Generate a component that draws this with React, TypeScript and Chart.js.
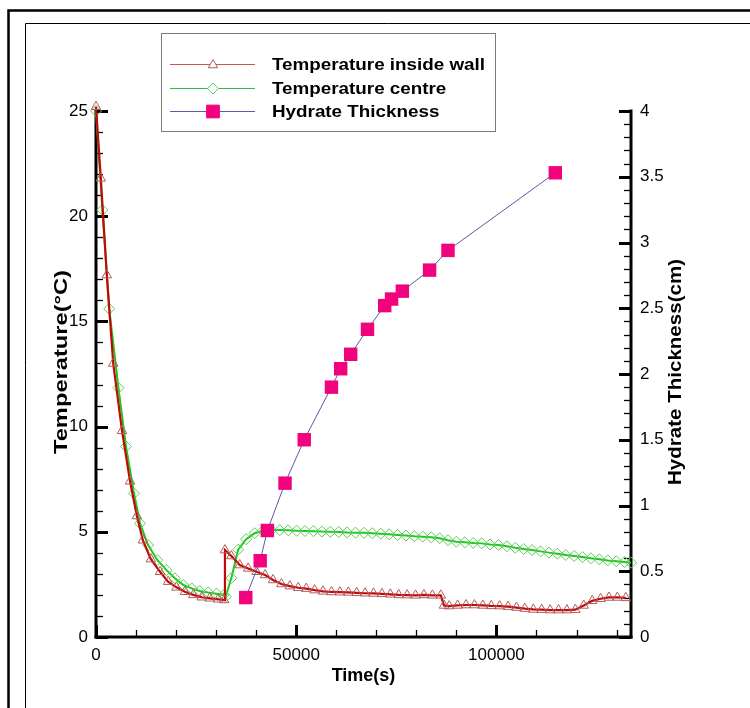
import React, { useEffect, useRef } from 'react';
import { Chart, registerables } from 'chart.js';

Chart.register(...registerables);

const FONT = '"Liberation Sans", Arial, Helvetica, sans-serif';

// ---------- data ----------
const wallTime = [0, 1200, 2700, 4300, 6500, 8500, 10200, 11700, 13700, 16000, 18000, 20100, 22200, 24300, 26400, 28400, 30500, 32000, 32200, 33800, 35900, 38000, 40100, 42200, 44200, 46300, 48400, 50500, 52500, 54600, 56700, 58800, 60900, 63000, 65100, 67200, 69300, 71400, 73500, 75600, 77700, 79800, 81900, 84000, 86100, 86900, 88200, 90300, 92400, 94500, 96600, 98700, 100800, 102900, 105000, 107100, 109200, 111300, 113400, 115500, 117600, 119700, 121800, 123900, 126000, 128100, 130200, 132300];
const wallTemp = [25.2, 21.8, 17.2, 13.0, 9.8, 7.4, 5.75, 4.6, 3.7, 3.1, 2.63, 2.36, 2.15, 2.0, 1.89, 1.84, 1.79, 1.76, 4.13, 3.85, 3.42, 3.26, 3.1, 2.95, 2.71, 2.52, 2.42, 2.34, 2.3, 2.23, 2.17, 2.14, 2.13, 2.12, 2.1, 2.08, 2.07, 2.05, 2.03, 2.0, 1.99, 1.98, 2.0, 1.98, 1.98, 1.5, 1.47, 1.5, 1.52, 1.52, 1.5, 1.48, 1.47, 1.44, 1.4, 1.35, 1.31, 1.3, 1.28, 1.28, 1.28, 1.3, 1.5, 1.72, 1.82, 1.88, 1.88, 1.86];

const centreTime = [0, 1600, 3300, 5600, 7500, 9500, 11000, 13000, 15300, 17600, 19700, 21800, 23900, 25900, 28000, 30100, 31900, 32400, 33800, 35500, 37500, 39600, 41700, 43800, 45900, 48000, 50100, 52200, 54300, 56400, 58500, 60600, 62700, 64800, 66900, 69000, 71100, 73200, 75300, 77400, 79500, 81600, 83700, 85800, 87900, 90000, 92100, 94200, 96300, 98400, 100500, 102600, 104700, 106800, 108900, 111000, 113100, 115200, 117300, 119400, 121500, 123600, 125700, 127800, 129900, 132000, 133600];
const centreTemp = [25.0, 20.3, 15.6, 11.85, 9.05, 6.83, 5.4, 4.37, 3.66, 3.18, 2.79, 2.47, 2.31, 2.19, 2.12, 2.06, 2.0, 1.92, 2.8, 4.15, 4.65, 4.93, 5.05, 5.08, 5.08, 5.07, 5.05, 5.04, 5.03, 5.01, 5.0, 4.99, 4.97, 4.96, 4.95, 4.93, 4.91, 4.88, 4.85, 4.82, 4.79, 4.77, 4.74, 4.69, 4.6, 4.53, 4.5, 4.47, 4.45, 4.4, 4.37, 4.31, 4.24, 4.18, 4.13, 4.07, 4.01, 3.96, 3.9, 3.85, 3.8, 3.74, 3.69, 3.64, 3.6, 3.56, 3.53];

const hydrateTime = [37400, 41000, 42800, 47200, 52000, 58800, 61100, 63600, 67800, 72100, 73800, 76500, 83300, 87900, 114700];
const hydrateThickness = [0.30, 0.58, 0.81, 1.17, 1.50, 1.90, 2.04, 2.15, 2.34, 2.52, 2.57, 2.63, 2.79, 2.94, 3.53];

const xTickValues = [0, 50000, 100000];
const tempTickValues = [0, 5, 10, 15, 20, 25];
const hydTickValues = [0, 0.5, 1, 1.5, 2, 2.5, 3, 3.5, 4];

const seriesNames = ['Temperature inside wall', 'Temperature centre', 'Hydrate Thickness'];
const axisTitles = { x: 'Time(s)', y: 'Temperature(°C)', y2: 'Hydrate Thickness(cm)' };

const X_MAX = 133600;
const T_MAX = 25;
const H_MAX = 4;

// ---------- styles ----------
const WALL_LINE = '#c40808';
const WALL_MARK = '#b35c5c';
const CENTRE_LINE = '#1ec81e';
const CENTRE_MARK = '#5fcc5f';
const HYD_LINE = '#5b5ba5';
const HYD_MARK = '#f2037e';

function pts(xs: number[], ys: number[]) {
  return xs.map((x, i) => ({ x, y: ys[i] }));
}

function drawText(ctx: CanvasRenderingContext2D, text: string, x: number, y: number, angle: number, font: string, align: CanvasTextAlign, width?: number) {
  ctx.save();
  ctx.translate(x, y);
  ctx.rotate(angle);
  ctx.font = font;
  ctx.textAlign = align;
  ctx.textBaseline = 'middle';
  ctx.fillStyle = '#000';
  if (width) {
    const w = ctx.measureText(text).width;
    ctx.scale(width / w, 1);
  }
  ctx.fillText(text, 0, 0);
  ctx.restore();
}

function marker(ctx: CanvasRenderingContext2D, style: string, x: number, y: number, r: number, stroke: string, fill?: string) {
  ctx.save();
  ctx.beginPath();
  if (style === 'triangle') {
    for (let k = 0; k < 3; k++) {
      const a = (k * 2 * Math.PI) / 3;
      const px = x + Math.sin(a) * r;
      const py = y - Math.cos(a) * r;
      if (k === 0) ctx.moveTo(px, py); else ctx.lineTo(px, py);
    }
    ctx.closePath();
  } else if (style === 'diamond') {
    ctx.moveTo(x, y - r); ctx.lineTo(x + r, y); ctx.lineTo(x, y + r); ctx.lineTo(x - r, y); ctx.closePath();
  } else {
    const s = r * Math.SQRT1_2;
    ctx.rect(x - s, y - s, 2 * s, 2 * s);
  }
  if (fill) { ctx.fillStyle = fill; ctx.fill(); }
  ctx.strokeStyle = stroke; ctx.lineWidth = 1; ctx.stroke();
  ctx.restore();
}

const decorPlugin = {
  id: 'decor',
  beforeDraw(chart: any) {
    const ctx: CanvasRenderingContext2D = chart.ctx;
    ctx.save();
    ctx.fillStyle = '#fff';
    ctx.fillRect(0, 0, chart.width, chart.height);
    ctx.strokeStyle = '#000';
    ctx.lineWidth = 2.5;
    ctx.beginPath(); ctx.moveTo(8.5, chart.height); ctx.lineTo(8.5, 10.5); ctx.lineTo(chart.width, 10.5); ctx.stroke();
    ctx.lineWidth = 1;
    ctx.beginPath(); ctx.moveTo(25.5, chart.height); ctx.lineTo(25.5, 23.5); ctx.lineTo(chart.width, 23.5); ctx.stroke();
    ctx.restore();
  },
  beforeDatasetsDraw(chart: any) {
    const ctx: CanvasRenderingContext2D = chart.ctx;
    const a = chart.chartArea;
    const { x, y, y2 } = chart.scales;
    ctx.save();
    ctx.strokeStyle = '#000';
    const seg = (x1: number, y1: number, x2: number, yy2: number, w: number) => {
      ctx.lineWidth = w; ctx.beginPath(); ctx.moveTo(x1, y1); ctx.lineTo(x2, yy2); ctx.stroke();
    };
    // left axis ticks (minor every 1, major every 5)
    for (let v = 0; v <= T_MAX; v++) {
      const p = Math.round(y.getPixelForValue(v)) + 0.5;
      const major = v % 5 === 0;
      seg(a.left, p, a.left + (major ? 12 : 7), p, major ? 3 : 1.3);
    }
    // right axis ticks (minor every 0.1, major every 0.5)
    for (let k = 0; k <= H_MAX * 10; k++) {
      const p = Math.round(y2.getPixelForValue(k / 10)) + 0.5;
      const major = k % 5 === 0;
      seg(a.right, p, a.right - (major ? 12 : 7), p, major ? 3 : 1.3);
    }
    // bottom axis ticks (minor every 10000, major every 50000)
    for (let v = 0; v <= X_MAX; v += 10000) {
      const p = Math.round(x.getPixelForValue(v)) + 0.5;
      const major = v % 50000 === 0;
      seg(p, a.bottom, p, a.bottom - (major ? 12 : 7), major ? 3 : 1.3);
    }
    // axis lines
    seg(a.left, a.top - 1.5, a.left, a.bottom + 1.5, 3);
    seg(a.right, a.top - 1.5, a.right, a.bottom + 1.5, 3);
    seg(a.left - 1.5, a.bottom, a.right + 1.5, a.bottom, 3);
    ctx.restore();
  },
  afterDraw(chart: any) {
    const ctx: CanvasRenderingContext2D = chart.ctx;
    const a = chart.chartArea;
    // axis titles
    drawText(ctx, axisTitles.x, (a.left + a.right) / 2, 676, 0, `bold 18px ${FONT}`, 'center');
    drawText(ctx, axisTitles.y, 62, 362, -Math.PI / 2, `bold 18px ${FONT}`, 'center', 184);
    drawText(ctx, axisTitles.y2, 676, 372, -Math.PI / 2, `bold 18px ${FONT}`, 'center', 226);
    // legend box
    ctx.save();
    ctx.fillStyle = '#fff';
    ctx.fillRect(161, 33, 334, 98);
    ctx.strokeStyle = '#7a7a7a';
    ctx.lineWidth = 1;
    ctx.strokeRect(161.5, 33.5, 334, 98);
    const rows = [64, 88, 111];
    const lineCols = ['#c05a5a', '#3cb83c', HYD_LINE];
    for (let i = 0; i < 3; i++) {
      const ry = rows[i] + 0.5;
      ctx.strokeStyle = lineCols[i];
      ctx.lineWidth = 1;
      ctx.beginPath(); ctx.moveTo(170, ry); ctx.lineTo(255, ry); ctx.stroke();
    }
    marker(ctx, 'triangle', 213, rows[0] + 1, 5.5, WALL_MARK, '#fff');
    marker(ctx, 'diamond', 213, rows[1] + 0.5, 5.5, CENTRE_MARK, '#fff');
    marker(ctx, 'rect', 213, rows[2] + 0.5, 9, HYD_MARK, HYD_MARK);
    ctx.restore();
    ctx.save();
    ctx.font = `bold 17px ${FONT}`;
    const sc = 213 / ctx.measureText(seriesNames[0]).width;
    ctx.restore();
    for (let i = 0; i < 3; i++) {
      ctx.save();
      ctx.font = `bold 17px ${FONT}`;
      const w = ctx.measureText(seriesNames[i]).width * sc;
      ctx.restore();
      drawText(ctx, seriesNames[i], 272, rows[i] + 1, 0, `bold 17px ${FONT}`, 'left', w);
    }
  },
};

export default function App() {
  const ref = useRef<HTMLCanvasElement>(null);
  useEffect(() => {
    const canvas = ref.current;
    if (!canvas) return;
    const tickFont = { family: FONT, size: 17 };
    const fixTicks = (vals: number[]) => (s: any) => { s.ticks = vals.map((value) => ({ value })); };
    const chart = new Chart(canvas, {
      type: 'line',
      data: {
        datasets: [
          {
            label: seriesNames[2],
            data: pts(hydrateTime, hydrateThickness),
            yAxisID: 'y2',
            borderColor: HYD_LINE,
            borderWidth: 1,
            pointStyle: 'rect',
            pointRadius: 9.5,
            pointBackgroundColor: HYD_MARK,
            pointBorderColor: HYD_MARK,
            pointBorderWidth: 0,
            clip: false,
          },
          {
            label: seriesNames[0],
            data: pts(wallTime, wallTemp),
            yAxisID: 'y',
            borderColor: WALL_LINE,
            borderWidth: 2.2,
            pointStyle: 'triangle',
            pointRadius: 5.5,
            pointBackgroundColor: 'rgba(0,0,0,0)',
            pointBorderColor: WALL_MARK,
            pointBorderWidth: 1,
            clip: false,
          },
          {
            label: seriesNames[1],
            data: pts(centreTime, centreTemp),
            yAxisID: 'y',
            borderColor: CENTRE_LINE,
            borderWidth: 2,
            pointStyle: 'rectRot',
            pointRadius: 5.5,
            pointBackgroundColor: 'rgba(0,0,0,0)',
            pointBorderColor: CENTRE_MARK,
            pointBorderWidth: 1,
            clip: false,
          },
        ] as any,
      },
      options: {
        responsive: false,
        animation: false,
        events: [],
        layout: { padding: { top: 111, left: 0, right: 0, bottom: 0 } },
        elements: { line: { tension: 0 } },
        plugins: { legend: { display: false }, tooltip: { enabled: false } },
        scales: {
          x: {
            type: 'linear',
            position: 'bottom',
            min: 0,
            max: X_MAX,
            afterFit: (s: any) => { s.height = 71; },
            afterBuildTicks: fixTicks(xTickValues),
            grid: { display: false, drawTicks: false },
            border: { display: false },
            ticks: {
              padding: 8,
              maxRotation: 0,
              autoSkip: false,
              color: '#000',
              font: tickFont,
              callback: (v: any) => String(v),
            },
          },
          y: {
            type: 'linear',
            position: 'left',
            min: 0,
            max: T_MAX,
            afterFit: (s: any) => { s.width = 96; },
            afterBuildTicks: fixTicks(tempTickValues),
            grid: { display: false, drawTicks: false },
            border: { display: false },
            ticks: { padding: 8, autoSkip: false, color: '#000', font: tickFont, callback: (v: any) => String(v) },
          },
          y2: {
            type: 'linear',
            position: 'right',
            min: 0,
            max: H_MAX,
            afterFit: (s: any) => { s.width = 119; },
            afterBuildTicks: fixTicks(hydTickValues),
            grid: { display: false, drawTicks: false },
            border: { display: false },
            ticks: { padding: 9, autoSkip: false, color: '#000', font: tickFont, callback: (v: any) => String(v) },
          },
        },
      } as any,
      plugins: [decorPlugin],
    });
    return () => chart.destroy();
  }, []);

  return (
    <div style={{ position: 'absolute', left: 0, top: 0, width: 750, height: 708, background: '#fff' }}>
      <canvas ref={ref} width={750} height={708} style={{ display: 'block', width: 750, height: 708 }} />
    </div>
  );
}
